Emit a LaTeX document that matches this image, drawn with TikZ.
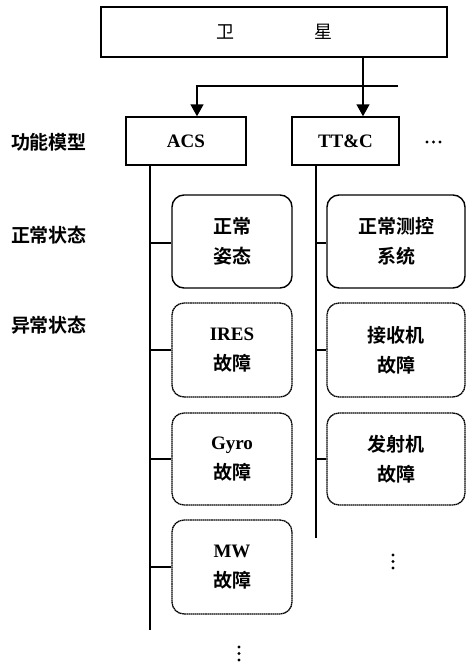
\documentclass[tikz,border=0pt]{standalone}
\usepackage{fontspec}
\setmainfont{Liberation Serif}
\newfontfamily\cjk{Noto Sans CJK SC}[BoldFont={Noto Sans CJK SC Bold}]
\usetikzlibrary{arrows.meta}
\begin{document}
\begin{tikzpicture}[x=1pt,y=-1pt,
  line width=1.4pt,
  sqbox/.style={draw,rectangle,inner sep=0pt,font=\fontsize{19}{24}\selectfont\bfseries},
  okbox/.style={draw,rounded corners=12pt,inner sep=0pt,minimum width=120pt,minimum height=93pt,align=center,font=\fontsize{19}{30}\selectfont\bfseries\cjk},
  badbox/.style={okbox,line width=1.3pt,dash pattern=on 1.6pt off 0.5pt},
  lbl/.style={font=\fontsize{19}{24}\selectfont\bfseries\cjk},
  arr/.style={-{Triangle[width=13pt,length=12pt]}},
  dot/.style={circle,fill,inner sep=0pt,minimum size=3.4pt}
]
\useasboundingbox (0,0) rectangle (468,665);
% top
\node[draw,rectangle,minimum width=346pt,minimum height=50pt,inner sep=0pt,font=\fontsize{18}{24}\selectfont\cjk] (sat) at (274,32) {卫\hspace{80pt}星};
\node[sqbox,minimum width=120pt,minimum height=48pt] (acs) at (186,141) {ACS};
\node[sqbox,minimum width=107pt,minimum height=48pt] (ttc) at (345.5,141) {TT\&C};
\node[dot] (m1) at (427,142) {};
\node[dot] (m2) at (433.5,142) {};
\node[dot] (m3) at (440,142) {};
% labels
\node[lbl] (l1) at (49,142) {功能模型};
\node[lbl] (l2) at (49,235) {正常状态};
\node[lbl] (l3) at (49,325) {异常状态};
% arrows
\coordinate (jr) at (398,86);
\coordinate (ja) at (197,86);
\coordinate (jt) at (363,86);
\draw[arr] (sat.south -| jt) -- (ttc.north -| jt);
\draw[arr] (jr) -- (ja) -- (acs.north -| ja);
% left column
\node[okbox] (a1) at (232,241.5) {正常\\姿态};
\node[badbox,minimum height=94pt] (a2) at (232,350) {{\rmfamily IRES}\\故障};
\node[badbox,minimum height=92pt] (a3) at (232,459) {{\rmfamily Gyro}\\故障};
\node[badbox,minimum height=94pt] (a4) at (232,567) {{\rmfamily MW}\\故障};
\coordinate (aend) at (150,630);
\draw (acs.south -| aend) -- (aend);
\draw (aend |- 0,243) -- (a1.west |- 0,243);
\foreach \b in {a2,a3,a4} \draw (\b.west -| aend) -- (\b.west);
\node[dot] (ad1) at (239,647) {};
\node[dot] (ad2) at (239,653.5) {};
\node[dot] (ad3) at (239,660) {};
% right column
\node[okbox,minimum width=138pt] (b1) at (396,241.5) {正常测控\\系统};
\node[badbox,minimum width=138pt,minimum height=94pt] (b2) at (396,350) {接收机\\故障};
\node[badbox,minimum width=138pt,minimum height=92pt] (b3) at (396,459) {发射机\\故障};
\coordinate (bend) at (316,538);
\draw (ttc.south -| bend) -- (bend);
\draw (bend |- 0,243) -- (b1.west |- 0,243);
\foreach \b in {b2,b3} \draw (\b.west -| bend) -- (\b.west);
\node[dot] (bd1) at (393,555) {};
\node[dot] (bd2) at (393,561.5) {};
\node[dot] (bd3) at (393,568) {};
\end{tikzpicture}
\end{document}
